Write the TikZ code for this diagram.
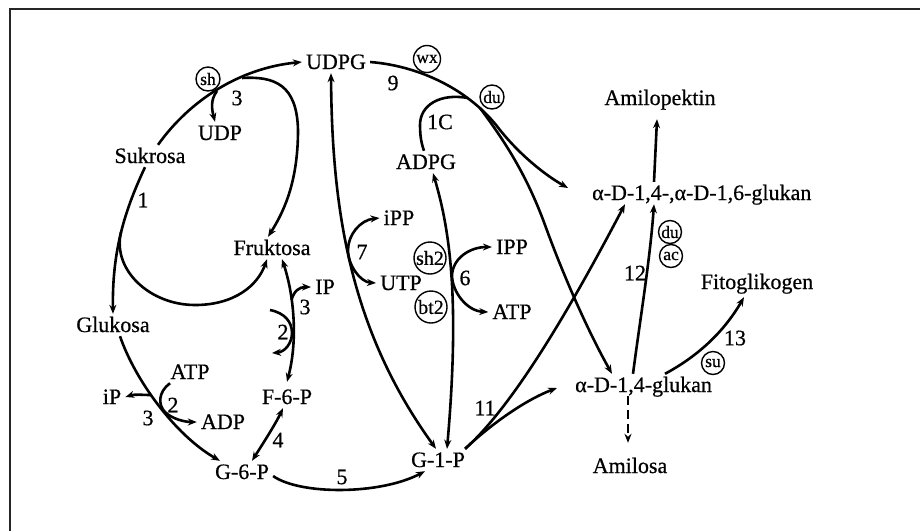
\documentclass[tikz,border=0pt]{standalone}
\usepackage{fontspec}
\setmainfont{Liberation Serif}[FakeBold=0.6]
\usetikzlibrary{arrows.meta}
\begin{document}
\begin{tikzpicture}[x=1pt,y=-1pt,
  every node/.style={font=\fontsize{22}{25}\selectfont},
  chem/.style={inner sep=4pt, text height=14pt, text depth=0pt},
  num/.style={inner sep=0pt},
  gene/.style={draw, circle, line width=1.4pt, inner sep=0pt, minimum size=24pt,
               font=\fontsize{17.5}{19}\selectfont},
  genebig/.style={gene, minimum size=32pt, font=\fontsize{20}{22}\selectfont},
  conn/.style={line width=2.6pt, -{Stealth[length=9pt,width=7pt]}},
  both/.style={line width=2.6pt, {Stealth[length=9pt,width=7pt]}-{Stealth[length=9pt,width=7pt]}},
  plain/.style={line width=2.6pt},
]
\useasboundingbox (0,0) rectangle (920,531);

% frame
\draw[line width=2pt, black!85] (920,9) -- (9.5,9) -- (9.5,531);

% metabolites
\node[chem] (udpg) at (336,62) {UDPG};
\node[chem] (udp) at (220,133) {UDP};
\node[chem] (suk) at (150,156) {Sukrosa};
\node[chem] (fru) at (272,248) {Fruktosa};
\node[chem] (glu) at (113,325) {Glukosa};
\node[chem] (ip1) at (325,287) {IP};
\node[chem] (f6p) at (287,397) {F-6-P};
\node[chem] (atp1) at (190,372) {ATP};
\node[chem] (ip2) at (112,397) {iP};
\node[chem] (adp) at (223,422) {ADP};
\node[chem] (g6p) at (242,472) {G-6-P};
\node[chem] (g1p) at (438,460) {G-1-P};
\node[chem] (ipp1) at (399,218) {iPP};
\node[chem] (utp) at (401,283) {UTP};
\node[chem] (adpg) at (426,162) {ADPG};
\node[chem] (ipp2) at (512,247) {IPP};
\node[chem] (atp2) at (512,312) {ATP};
\node[chem] (amilop) at (660,98) {Amilopektin};
\node[chem, anchor=west] (g16) at (588,193) {α-D-1,4-,α-D-1,6-glukan};
\node[chem, anchor=west] (g14) at (571,385) {α-D-1,4-glukan};
\node[chem] (amilosa) at (630,466) {Amilosa};
\node[chem] (fito) at (757,282) {Fitoglikogen};

% genes
\node[gene] (sh) at (208,79) {sh};
\node[gene, minimum size=27pt] (wx) at (427,59) {wx};
\node[gene] (du1) at (492,97) {du};
\node[genebig] (sh2) at (430,258) {sh2};
\node[genebig] (bt2) at (431,307) {bt2};
\node[gene, minimum size=23pt] (du2) at (670,232) {du};
\node[gene, minimum size=23pt] (ac) at (671,256) {ac};
\node[gene, minimum size=23pt] (su) at (713,363) {su};

% reaction numbers
\node[num] (n3a) at (237,98) {3};
\node[num] (n1) at (143,200) {1};
\node[num] (n9) at (393,83) {9};
\node[num] (n1c) at (440,122) {1C};
\node[num] (n7) at (362,252) {7};
\node[num] (n6) at (465,278) {6};
\node[num] (n3b) at (305,307) {3};
\node[num] (n2a) at (283,332) {2};
\node[num] (n2b) at (173,405) {2};
\node[num] (n3c) at (148,418) {3};
\node[num] (n4) at (278,440) {4};
\node[num] (n5) at (342,477) {5};
\node[num] (n11) at (485,408) {11};
\node[num] (n12) at (635,273) {12};
\node[num] (n13) at (735,338) {13};

% branch points
\coordinate (j-udp) at (217,91);
\coordinate (j-fru) at (242,78);
\coordinate (j-suk) at (121,232);
\coordinate (j-ip) at (151,395);
\coordinate (j-ip1) at (291.5,300);
\coordinate (r2-start) at (270,310);
\coordinate (j-1c) at (468,98);
\coordinate (j-9) at (480,108);

% sucrose branch
\draw[conn] ([xshift=8pt]suk.north) .. controls (190,100) and (240,68) .. (udpg.west);
\draw[conn] (j-udp) .. controls (210,100) and (212,110) .. ([xshift=-5pt]udp.north);
\draw[conn] (j-fru) .. controls (275,76) and (297,85) .. (298,130)
  .. controls (298,180) and (285,210) .. ([xshift=-4pt]fru.north);
\draw[conn] ([xshift=-5pt]suk.south) .. controls (125,210) and (112,250) .. (glu.north);
\draw[conn] (j-suk) .. controls (112,270) and (150,305) .. (195,305)
  .. controls (235,305) and (258,285) .. ([xshift=-5pt]fru.south);

% glucose to G-6-P
\draw[conn] ([xshift=7pt]glu.south) .. controls (135,380) and (175,435) .. ([xshift=-22pt]g6p.north);
\draw[conn] (j-ip) .. controls (142,395) and (135,394) .. (ip2.east);
\draw[conn] ([xshift=-20pt]atp1.south) .. controls (158,392) and (158,405) .. (165,412)
  .. controls (172,419) and (185,422) .. (adp.west);

% fructose to F-6-P
\draw[both] ([xshift=10pt]fru.south) .. controls (294,295) and (298,340) .. ([yshift=4pt]f6p.north);
\draw[conn] (j-ip1) .. controls (294,291) and (299,287) .. (ip1.west);
\draw[conn] (r2-start) .. controls (285,313) and (292,322) .. (292,333)
  .. controls (292,343) and (285,352) .. (272,353);

% hexose phosphates
\draw[both] ([xshift=-4pt]f6p.south) .. controls (275,425) and (262,445) .. ([xshift=10pt]g6p.north);
\draw[conn] ([yshift=-4pt]g6p.east) .. controls (300,495) and (380,495) .. ([xshift=-13pt]g1p.south);

% nucleotide sugars
\draw[both] ([xshift=-5pt]udpg.south) .. controls (332,210) and (350,330) .. ([xshift=-2pt]g1p.north);
\draw[both] (ipp1.west) .. controls (360,220) and (348,235) .. (348,250)
  .. controls (348,265) and (360,282) .. (utp.west);
\draw[both] ([xshift=7pt]adpg.south) .. controls (450,230) and (460,300) .. ([xshift=9pt]g1p.north);
\draw[both] (ipp2.west) .. controls (470,247) and (453,258) .. (452,275)
  .. controls (452,292) and (467,311) .. (atp2.west);
\draw[plain] (j-1c) .. controls (440,93) and (420,105) .. (420,125)
  .. controls (420,138) and (422,145) .. ([xshift=-2pt]adpg.north);

% glucans
\draw[conn] (udpg.east) .. controls (420,66) and (470,90) .. (500,130)
  .. controls (520,155) and (545,175) .. ([xshift=-20pt,yshift=5pt]g16.west);
\draw[conn] (j-9) .. controls (500,135) and (525,170) .. (545,225)
  .. controls (565,280) and (590,335) .. ([xshift=41pt]g14.north west);
\draw[conn] ([xshift=-4pt]g1p.north east) .. controls (520,400) and (585,280) .. ([xshift=37pt]g16.south west);
\draw[conn] ([xshift=-4pt]g1p.north east) .. controls (490,425) and (525,400) .. ([xshift=-14pt,yshift=-3pt]g14.west);
\draw[conn] ([xshift=62pt]g14.north west) .. controls (640,320) and (650,260) .. ([xshift=66pt]g16.south west);
\draw[conn] ([xshift=66pt]g16.north west) -- ([xshift=-3pt,yshift=-10pt]amilop.south);
\draw[conn] ([xshift=94pt]g14.north west) .. controls (700,355) and (725,330) .. ([xshift=-13pt,yshift=-4pt]fito.south);
\draw[conn, dash pattern=on 9pt off 5pt] ([xshift=57pt]g14.south west) -- ([xshift=-2pt,yshift=12pt]amilosa.north);
\end{tikzpicture}
\end{document}
